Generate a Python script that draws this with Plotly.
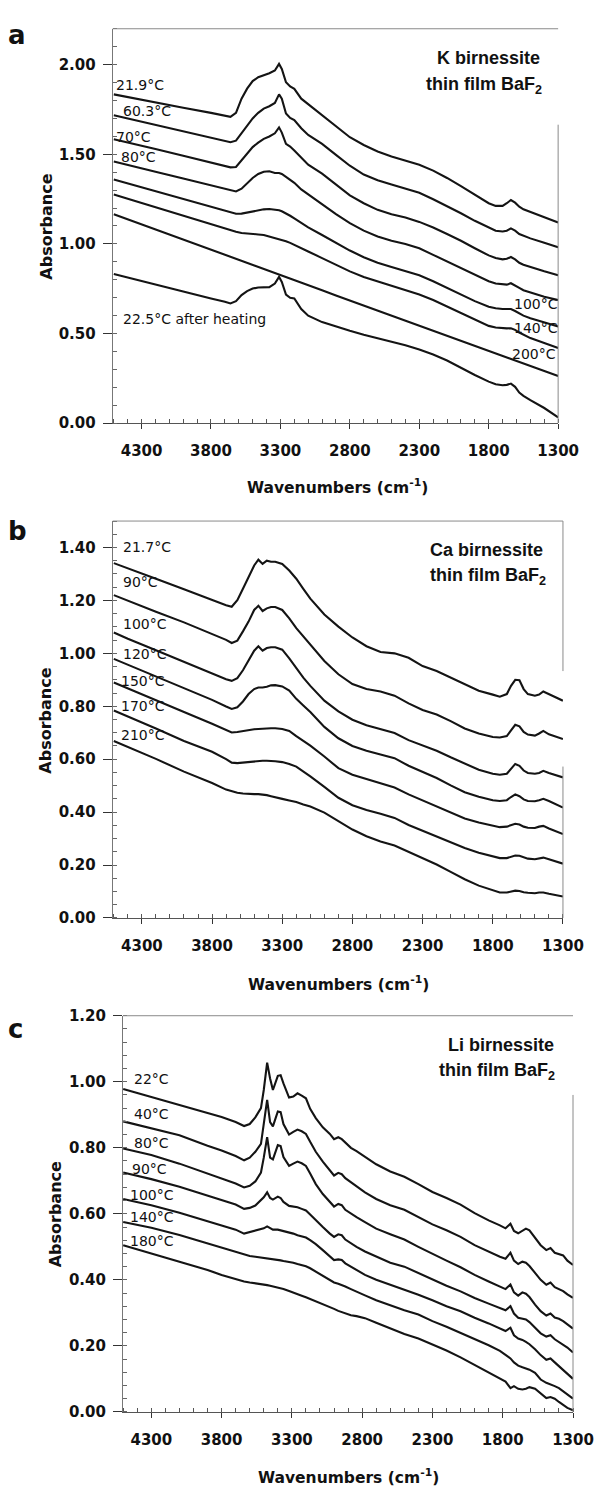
import plotly.graph_objects as go

W, H = 611, 1494

# ---------------- Panel a : K birnessite ----------------
wn_a = [4500, 4400, 4200, 4000, 3800, 3700, 3660, 3620, 3580, 3540, 3500, 3460, 3420, 3380, 3340,
        3310, 3290, 3260, 3230, 3200, 3150, 3100, 3000, 2900, 2800, 2700, 2600, 2500, 2400, 2300,
        2200, 2100, 2000, 1900, 1800, 1750, 1700, 1670, 1640, 1610, 1580, 1550, 1500, 1400, 1300]
a_21_9 = [1.834, 1.820, 1.790, 1.760, 1.731, 1.714, 1.709, 1.731, 1.810, 1.866, 1.908, 1.930, 1.939, 1.952, 1.967,
          2.004, 1.976, 1.902, 1.878, 1.865, 1.810, 1.779, 1.718, 1.654, 1.595, 1.552, 1.516, 1.488, 1.466, 1.442,
          1.409, 1.368, 1.322, 1.276, 1.227, 1.212, 1.212, 1.227, 1.245, 1.230, 1.208, 1.193, 1.179, 1.147, 1.120]
a_60_3 = [1.718, 1.700, 1.665, 1.628, 1.593, 1.575, 1.567, 1.576, 1.617, 1.663, 1.700, 1.731, 1.755, 1.768, 1.786,
          1.834, 1.810, 1.727, 1.703, 1.691, 1.645, 1.608, 1.558, 1.497, 1.436, 1.387, 1.355, 1.331, 1.308, 1.285,
          1.249, 1.212, 1.171, 1.129, 1.092, 1.074, 1.069, 1.074, 1.087, 1.074, 1.055, 1.046, 1.031, 1.006, 0.982]
a_70 = [1.584, 1.567, 1.529, 1.492, 1.455, 1.436, 1.427, 1.429, 1.466, 1.506, 1.540, 1.565, 1.586, 1.599, 1.617,
        1.650, 1.621, 1.558, 1.543, 1.521, 1.479, 1.442, 1.392, 1.331, 1.271, 1.227, 1.190, 1.166, 1.147, 1.123,
        1.092, 1.055, 1.018, 0.976, 0.936, 0.921, 0.914, 0.917, 0.927, 0.914, 0.895, 0.884, 0.871, 0.847, 0.825]
a_80 = [1.460, 1.442, 1.403, 1.365, 1.328, 1.308, 1.300, 1.293, 1.308, 1.337, 1.368, 1.390, 1.403, 1.405, 1.396,
        1.396, 1.390, 1.374, 1.359, 1.341, 1.304, 1.276, 1.221, 1.166, 1.116, 1.074, 1.042, 1.018, 1.000, 0.976,
        0.939, 0.902, 0.862, 0.825, 0.792, 0.779, 0.773, 0.773, 0.781, 0.770, 0.755, 0.742, 0.729, 0.705, 0.687]
a_100 = [1.359, 1.337, 1.293, 1.249, 1.204, 1.182, 1.175, 1.168, 1.169, 1.175, 1.184, 1.190, 1.193, 1.195, 1.192,
         1.188, 1.182, 1.171, 1.157, 1.142, 1.116, 1.092, 1.050, 1.006, 0.963, 0.926, 0.895, 0.871, 0.849, 0.825,
         0.792, 0.755, 0.718, 0.681, 0.650, 0.641, 0.637, 0.635, 0.637, 0.626, 0.613, 0.600, 0.586, 0.562, 0.540]
a_140 = [1.276, 1.252, 1.204, 1.157, 1.110, 1.087, 1.077, 1.068, 1.061, 1.057, 1.055, 1.053, 1.050, 1.042, 1.033,
         1.028, 1.022, 1.015, 1.006, 0.994, 0.976, 0.958, 0.921, 0.884, 0.847, 0.816, 0.792, 0.770, 0.746, 0.718,
         0.687, 0.650, 0.613, 0.576, 0.543, 0.534, 0.530, 0.529, 0.530, 0.521, 0.506, 0.494, 0.475, 0.448, 0.420]
a_200 = [1.166, 1.138, 1.081, 1.024, 0.969, 0.939, 0.928, 0.917, 0.906, 0.895, 0.882, 0.873, 0.860, 0.851, 0.838,
         0.831, 0.825, 0.816, 0.807, 0.799, 0.785, 0.770, 0.742, 0.713, 0.685, 0.657, 0.630, 0.600, 0.573, 0.545,
         0.516, 0.488, 0.460, 0.431, 0.403, 0.390, 0.376, 0.367, 0.358, 0.350, 0.341, 0.333, 0.319, 0.291, 0.263]
a_after = [0.832, 0.812, 0.773, 0.735, 0.696, 0.678, 0.668, 0.681, 0.715, 0.737, 0.751, 0.757, 0.757, 0.759, 0.779,
           0.816, 0.788, 0.718, 0.700, 0.696, 0.637, 0.600, 0.564, 0.538, 0.516, 0.494, 0.475, 0.457, 0.435, 0.411,
           0.383, 0.350, 0.309, 0.269, 0.232, 0.217, 0.212, 0.214, 0.221, 0.203, 0.171, 0.153, 0.129, 0.085, 0.033]
series_a = [a_21_9, a_60_3, a_70, a_80, a_100, a_140, a_200, a_after]

# ---------------- Panel b : Ca birnessite ----------------
wn_b = [4500, 4400, 4200, 4000, 3800, 3700, 3660, 3620, 3580, 3540, 3500, 3470, 3440, 3410, 3380, 3350,
        3300, 3250, 3200, 3150, 3100, 3000, 2900, 2800, 2700, 2600, 2500, 2400, 2300, 2200, 2100, 2000,
        1900, 1800, 1750, 1700, 1670, 1640, 1610, 1580, 1550, 1500, 1470, 1440, 1400, 1350, 1300]
b_21_7 = [1.341, 1.322, 1.282, 1.242, 1.201, 1.182, 1.176, 1.201, 1.244, 1.288, 1.332, 1.354, 1.338, 1.350, 1.346, 1.346,
          1.338, 1.313, 1.282, 1.244, 1.207, 1.147, 1.101, 1.060, 1.027, 1.005, 1.000, 0.983, 0.952, 0.933, 0.908, 0.881,
          0.859, 0.844, 0.836, 0.846, 0.877, 0.900, 0.898, 0.865, 0.846, 0.840, 0.844, 0.856, 0.846, 0.831, 0.821]
b_90 = [1.220, 1.198, 1.157, 1.117, 1.075, 1.051, 1.039, 1.048, 1.083, 1.120, 1.164, 1.180, 1.160, 1.170, 1.175, 1.175,
        1.164, 1.132, 1.095, 1.064, 1.033, 0.971, 0.921, 0.884, 0.865, 0.856, 0.840, 0.811, 0.786, 0.769, 0.744, 0.716,
        0.697, 0.684, 0.682, 0.687, 0.709, 0.730, 0.724, 0.703, 0.693, 0.689, 0.697, 0.707, 0.694, 0.684, 0.676]
b_100 = [1.079, 1.055, 1.012, 0.967, 0.923, 0.902, 0.896, 0.906, 0.936, 0.971, 1.010, 1.027, 1.010, 1.020, 1.023, 1.023,
         1.014, 0.981, 0.943, 0.908, 0.877, 0.821, 0.781, 0.749, 0.728, 0.714, 0.699, 0.672, 0.651, 0.632, 0.607, 0.582,
         0.560, 0.545, 0.541, 0.545, 0.562, 0.582, 0.575, 0.557, 0.548, 0.545, 0.548, 0.556, 0.548, 0.539, 0.531]
b_120 = [0.979, 0.957, 0.912, 0.867, 0.824, 0.799, 0.790, 0.796, 0.818, 0.846, 0.865, 0.871, 0.871, 0.874, 0.879, 0.880,
         0.875, 0.859, 0.828, 0.803, 0.778, 0.722, 0.679, 0.650, 0.632, 0.618, 0.604, 0.575, 0.551, 0.529, 0.501, 0.475,
         0.458, 0.445, 0.442, 0.445, 0.457, 0.467, 0.460, 0.448, 0.442, 0.441, 0.445, 0.450, 0.442, 0.429, 0.417]
b_150 = [0.890, 0.867, 0.823, 0.778, 0.734, 0.709, 0.701, 0.703, 0.707, 0.711, 0.713, 0.714, 0.716, 0.716, 0.717, 0.717,
         0.714, 0.707, 0.687, 0.669, 0.651, 0.610, 0.566, 0.541, 0.525, 0.510, 0.493, 0.467, 0.444, 0.421, 0.396, 0.376,
         0.361, 0.348, 0.343, 0.345, 0.351, 0.356, 0.353, 0.345, 0.341, 0.340, 0.345, 0.348, 0.338, 0.329, 0.317]
b_170 = [0.784, 0.762, 0.716, 0.669, 0.628, 0.600, 0.587, 0.585, 0.587, 0.590, 0.592, 0.594, 0.594, 0.594, 0.594, 0.592,
         0.589, 0.582, 0.572, 0.554, 0.535, 0.495, 0.454, 0.426, 0.408, 0.394, 0.378, 0.351, 0.329, 0.309, 0.286, 0.264,
         0.246, 0.233, 0.226, 0.226, 0.231, 0.236, 0.235, 0.228, 0.224, 0.222, 0.224, 0.228, 0.222, 0.214, 0.205]
b_210 = [0.669, 0.647, 0.601, 0.553, 0.510, 0.485, 0.478, 0.473, 0.470, 0.468, 0.468, 0.468, 0.467, 0.464, 0.460, 0.457,
         0.450, 0.444, 0.438, 0.429, 0.421, 0.398, 0.367, 0.334, 0.309, 0.289, 0.274, 0.251, 0.228, 0.202, 0.174, 0.146,
         0.122, 0.106, 0.096, 0.096, 0.100, 0.103, 0.102, 0.097, 0.095, 0.093, 0.096, 0.096, 0.091, 0.087, 0.081]
series_b = [b_21_7, b_90, b_100, b_120, b_150, b_170, b_210]

# ---------------- Panel c : Li birnessite ----------------
wn_c = [4500, 4300, 4100, 3900, 3800, 3700, 3640, 3600, 3560, 3520, 3500, 3476, 3455, 3435, 3400, 3380,
        3360, 3320, 3290, 3260, 3230, 3200, 3170, 3130, 3080, 3030, 3000, 2970, 2945, 2920, 2880, 2840,
        2780, 2700, 2600, 2500, 2400, 2300, 2200, 2100, 2000, 1900, 1820, 1780, 1745, 1720, 1690, 1660,
        1635, 1610, 1570, 1530, 1490, 1460, 1430, 1400, 1370, 1340, 1300]
c_22 = [0.978, 0.953, 0.930, 0.905, 0.893, 0.878, 0.866, 0.872, 0.892, 0.920, 0.975, 1.058, 1.010, 0.975, 1.018, 1.020,
        0.995, 0.952, 0.955, 0.965, 0.958, 0.950, 0.918, 0.890, 0.862, 0.842, 0.826, 0.832, 0.826, 0.815, 0.800, 0.790,
        0.772, 0.750, 0.728, 0.712, 0.690, 0.666, 0.648, 0.628, 0.602, 0.580, 0.565, 0.556, 0.570, 0.548, 0.541, 0.548,
        0.555, 0.550, 0.528, 0.505, 0.490, 0.496, 0.482, 0.478, 0.474, 0.458, 0.445]
c_40 = [0.880, 0.860, 0.838, 0.806, 0.792, 0.775, 0.762, 0.770, 0.788, 0.812, 0.870, 0.945, 0.878, 0.865, 0.910, 0.908,
        0.872, 0.840, 0.848, 0.855, 0.850, 0.842, 0.818, 0.788, 0.758, 0.732, 0.716, 0.724, 0.720, 0.708, 0.695, 0.684,
        0.665, 0.645, 0.626, 0.612, 0.590, 0.568, 0.550, 0.530, 0.505, 0.485, 0.470, 0.464, 0.482, 0.458, 0.448, 0.455,
        0.452, 0.442, 0.420, 0.400, 0.385, 0.392, 0.378, 0.372, 0.366, 0.356, 0.345]
c_80 = [0.798, 0.778, 0.752, 0.722, 0.705, 0.692, 0.680, 0.685, 0.698, 0.725, 0.770, 0.832, 0.770, 0.765, 0.808, 0.805,
        0.772, 0.745, 0.752, 0.758, 0.753, 0.745, 0.722, 0.690, 0.660, 0.635, 0.622, 0.630, 0.626, 0.612, 0.600, 0.590,
        0.575, 0.555, 0.538, 0.522, 0.500, 0.478, 0.458, 0.438, 0.415, 0.395, 0.380, 0.372, 0.386, 0.362, 0.352, 0.362,
        0.358, 0.348, 0.325, 0.305, 0.292, 0.298, 0.286, 0.282, 0.275, 0.265, 0.252]
c_90 = [0.725, 0.705, 0.682, 0.655, 0.640, 0.628, 0.615, 0.618, 0.625, 0.640, 0.650, 0.665, 0.648, 0.643, 0.652, 0.648,
        0.636, 0.624, 0.622, 0.620, 0.615, 0.610, 0.598, 0.580, 0.560, 0.540, 0.530, 0.538, 0.535, 0.522, 0.510, 0.500,
        0.486, 0.470, 0.452, 0.440, 0.420, 0.400, 0.382, 0.365, 0.345, 0.328, 0.314, 0.308, 0.320, 0.298, 0.285, 0.282,
        0.280, 0.272, 0.255, 0.238, 0.228, 0.232, 0.220, 0.212, 0.205, 0.195, 0.180]
c_100 = [0.645, 0.626, 0.603, 0.578, 0.565, 0.552, 0.540, 0.544, 0.548, 0.552, 0.556, 0.562, 0.556, 0.552, 0.552, 0.550,
         0.548, 0.543, 0.540, 0.535, 0.532, 0.528, 0.520, 0.508, 0.490, 0.472, 0.460, 0.462, 0.460, 0.450, 0.440, 0.430,
         0.415, 0.400, 0.385, 0.372, 0.355, 0.338, 0.320, 0.305, 0.285, 0.268, 0.252, 0.245, 0.255, 0.232, 0.222, 0.218,
         0.212, 0.205, 0.190, 0.172, 0.158, 0.162, 0.150, 0.138, 0.128, 0.115, 0.100]
c_140 = [0.575, 0.558, 0.536, 0.510, 0.498, 0.485, 0.476, 0.472, 0.470, 0.468, 0.466, 0.466, 0.464, 0.462, 0.460, 0.459,
         0.457, 0.455, 0.452, 0.448, 0.445, 0.441, 0.435, 0.425, 0.412, 0.400, 0.392, 0.388, 0.385, 0.380, 0.372, 0.365,
         0.353, 0.338, 0.322, 0.308, 0.295, 0.275, 0.258, 0.240, 0.222, 0.202, 0.185, 0.172, 0.162, 0.150, 0.140, 0.135,
         0.132, 0.128, 0.118, 0.098, 0.088, 0.084, 0.078, 0.072, 0.062, 0.052, 0.040]
c_180 = [0.505, 0.480, 0.455, 0.430, 0.415, 0.402, 0.395, 0.392, 0.390, 0.386, 0.385, 0.384, 0.382, 0.380, 0.377, 0.375,
         0.372, 0.366, 0.362, 0.357, 0.352, 0.347, 0.342, 0.335, 0.326, 0.318, 0.312, 0.306, 0.302, 0.298, 0.293, 0.290,
         0.284, 0.270, 0.252, 0.236, 0.222, 0.204, 0.186, 0.165, 0.142, 0.120, 0.102, 0.092, 0.072, 0.078, 0.070, 0.068,
         0.070, 0.075, 0.070, 0.055, 0.042, 0.045, 0.040, 0.030, 0.022, 0.012, 0.005]
series_c = [c_22, c_40, c_80, c_90, c_100, c_140, c_180]

# curve labels
labels_a_left = ["21.9\u00b0C", "60.3\u00b0C", "70\u00b0C", "80\u00b0C"]
labels_a_right = ["100\u00b0C", "140\u00b0C", "200\u00b0C"]
label_a_after = "22.5\u00b0C after heating"
labels_b = ["21.7\u00b0C", "90\u00b0C", "100\u00b0C", "120\u00b0C", "150\u00b0C", "170\u00b0C", "210\u00b0C"]
labels_c = ["22\u00b0C", "40\u00b0C", "80\u00b0C", "90\u00b0C", "100\u00b0C", "140\u00b0C", "180\u00b0C"]
titles = ["K birnessite", "Ca birnessite", "Li birnessite"]
subtitle = "thin film BaF<sub>2</sub>"
panel_letters = ["a", "b", "c"]
x_ticks = [4300, 3800, 3300, 2800, 2300, 1800, 1300]

# ---------------- layout geometry (pixels) ----------------
def px(x):
    return x / W

def py(y):
    return 1 - y / H

# (left, right, top, bottom) of plot areas in pixels
boxes = [(116.7, 578.0, 20.0, 419.3), (116.7, 583.0, 518.3, 920.0), (127.3, 593.4, 1019.0, 1420.0)]
xranges = [[4508, 1300], [4508, 1300], [4502, 1300]]
yranges = [[0, 2.2], [0, 1.5], [0, 1.2]]
ydticks = [0.5, 0.2, 0.2]
yminor = [0.1, 0.05, 0.04]

LINE = "#141414"
TXT = "#111111"
fig = go.Figure()

all_series = [(wn_a, series_a), (wn_b, series_b), (wn_c, series_c)]
for i, (wn, ser) in enumerate(all_series):
    xa = "x" if i == 0 else f"x{i+1}"
    ya = "y" if i == 0 else f"y{i+1}"
    for s in ser:
        fig.add_trace(go.Scatter(x=wn, y=s, mode="lines", xaxis=xa, yaxis=ya,
                                 line=dict(color=LINE, width=2.1), showlegend=False, hoverinfo="skip"))

tickfont_y = dict(family="DejaVu Sans", size=15, color=TXT, weight="bold")
tickfont_x = dict(family="DejaVu Sans", size=15, color=TXT, weight="bold")

layout = dict(width=W, height=H, margin=dict(l=0, r=0, t=0, b=0), autosize=False,
              paper_bgcolor="white", plot_bgcolor="white", showlegend=False)
for i in range(3):
    L, R, T, B = boxes[i]
    xk = "xaxis" if i == 0 else f"xaxis{i+1}"
    yk = "yaxis" if i == 0 else f"yaxis{i+1}"
    anchor_y = "y" if i == 0 else f"y{i+1}"
    anchor_x = "x" if i == 0 else f"x{i+1}"
    layout[xk] = dict(domain=[px(L), px(R)], anchor=anchor_y, range=xranges[i],
                      tickmode="array", tickvals=x_ticks, ticktext=[str(t) for t in x_ticks],
                      ticks="outside", ticklen=5, tickwidth=1, tickcolor="#333",
                      minor=dict(ticks="inside", ticklen=4, tickcolor="#555", dtick=100, tick0=1300, showgrid=False),
                      showline=True, linecolor="#555", linewidth=1, showgrid=False, zeroline=False,
                      tickfont=tickfont_x, ticklabelstandoff=9)
    layout[yk] = dict(domain=[py(B), py(T)], anchor=anchor_x, range=yranges[i],
                      tickmode="linear", tick0=0, dtick=ydticks[i], tickformat=".2f",
                      ticks="outside", ticklen=9, tickwidth=1, tickcolor="#333",
                      minor=dict(ticks="inside", ticklen=4, tickcolor="#666", dtick=yminor[i], tick0=0, showgrid=False),
                      showline=True, linecolor="#777", linewidth=1, showgrid=False, zeroline=False,
                      tickfont=tickfont_y, ticklabelstandoff=4)
fig.update_layout(**layout)

# frame: top border and (partial) right border
shapes = []
right_segments = [[(0, 1.665)], [(0, 0.572), (0.933, 1.5)], [(0, 0.96)]]
for i in range(3):
    xr = "x domain" if i == 0 else f"x{i+1} domain"
    yr = "y" if i == 0 else f"y{i+1}"
    yrd = "y domain" if i == 0 else f"y{i+1} domain"
    shapes.append(dict(type="line", xref=xr, yref=yrd, x0=0, x1=1, y0=1, y1=1,
                       line=dict(color="#8a8a8a", width=1)))
    for (y0, y1) in right_segments[i]:
        shapes.append(dict(type="line", xref=xr, yref=yr, x0=1, x1=1, y0=y0, y1=y1,
                           line=dict(color="#8a8a8a", width=1)))
fig.update_layout(shapes=shapes)

ann = []

def text(x, y, s, size, anchor="left", bold=False, family="DejaVu Sans", angle=0):
    f = dict(family=family, size=size, color=TXT)
    if bold:
        f["weight"] = "bold"
    ann.append(dict(x=px(x), y=py(y), xref="paper", yref="paper", text=s, showarrow=False,
                    xanchor=anchor, yanchor="middle", font=f, textangle=angle))

# panel letters
for (lx, ly), letter in zip([(18, 26), (18, 528), (16, 1032)], panel_letters):
    text(lx, ly, letter, 26, anchor="center", bold=True)

# axis titles
for (cx, cy) in [(349.6, 483.5), (350.6, 986), (361, 1485)]:
    text(cx, cy, "Wavenumbers (cm<sup>-1</sup>)", 15.5, anchor="center", bold=True)
for (cx, cy) in [(48, 220), (47, 720), (57, 1220)]:
    text(cx, cy, "Absorbance", 16, anchor="center", bold=True, angle=-90)

# sample titles
for (t1, t2), s in zip([((506, 50), (501, 77.5)), ((504, 548), (505, 574)), ((519, 1049), (515, 1075))], titles):
    text(t1[0], t1[1], s, 18, anchor="center", bold=True, family="Liberation Sans")
    text(t2[0], t2[1], subtitle, 18, anchor="center", bold=True, family="Liberation Sans")

# curve labels panel a
for (lx, ly), s in zip([(118.3, 77), (125, 103), (118.3, 130), (123, 150)], labels_a_left):
    text(lx, ly, s, 14)
for (lx, ly), s in zip([(580, 299), (580, 323), (578, 349)], labels_a_right):
    text(lx, ly, s, 14, anchor="right")
text(125.3, 313.3, label_a_after, 14)

# panel b
for (lx, ly), s in zip([(125, 545), (125, 580), (125, 622), (125, 653), (123.4, 680), (123.4, 705), (123.4, 735)], labels_b):
    text(lx, ly, s, 14)
# panel c
for (lx, ly), s in zip([(137, 1083), (137, 1118), (137, 1148), (135, 1174), (133, 1200), (133, 1223), (133, 1247)], labels_c):
    text(lx, ly, s, 14)

fig.update_layout(annotations=ann)
fig.write_html("out.html")
